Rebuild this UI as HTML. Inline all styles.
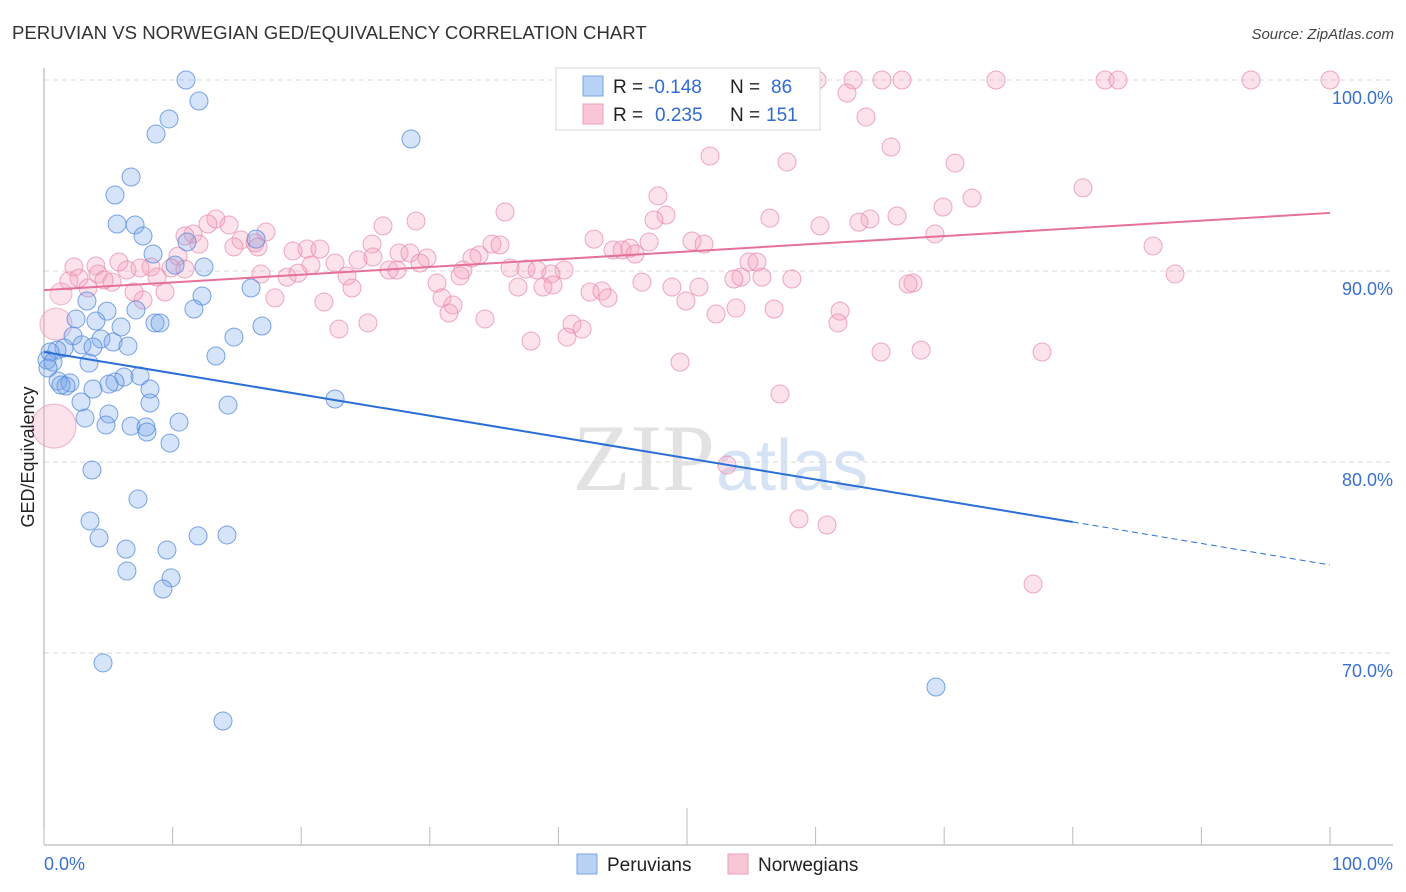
<!DOCTYPE html>
<html><head><meta charset="utf-8">
<style>
body{margin:0;background:#fff;font-family:"Liberation Sans",sans-serif;}
svg{display:block}
</style></head>
<body>
<svg width="1406" height="892" id="chart">
<text x="12" y="39" font-size="18.6" fill="#333">PERUVIAN VS NORWEGIAN GED/EQUIVALENCY CORRELATION CHART</text>
<text x="1394" y="39" font-size="15" fill="#444" font-style="italic" text-anchor="end">Source: ZipAtlas.com</text>
<text x="715" y="490" font-size="95" fill="#e2e2e2" text-anchor="end" font-family="Liberation Serif">ZIP</text>
<text x="716" y="490" font-size="72" fill="#d6e3f5">atlas</text>
<g id="grid"></g>
<g id="axes"></g>
<g id="marks"></g>
<text transform="translate(34,457) rotate(-90)" font-size="18" fill="#222" text-anchor="middle">GED/Equivalency</text>
<g>
<rect x="556" y="68" width="264" height="62" fill="#fff" stroke="#d8d8d8"/>
<rect x="583" y="76" width="20" height="20" fill="#b8d3f5" stroke="#7aa6e3"/>
<rect x="583" y="104" width="20" height="20" fill="#f9c6d6" stroke="#eba1ba"/>
<text x="613" y="93" font-size="19" fill="#222">R = <tspan fill="#2f6bd0" x="648">-0.148</tspan><tspan fill="#222" x="730">N = </tspan><tspan fill="#2f6bd0" x="771">86</tspan></text>
<text x="613" y="121" font-size="19" fill="#222">R = <tspan fill="#2f6bd0" x="655">0.235</tspan><tspan fill="#222" x="730">N = </tspan><tspan fill="#2f6bd0" x="766">151</tspan></text>
</g>
<g>
<rect x="577" y="854" width="20" height="20" fill="#b8d3f5" stroke="#7aa6e3"/>
<text x="607" y="871" font-size="19" fill="#222">Peruvians</text>
<rect x="728" y="854" width="20" height="20" fill="#f9c6d6" stroke="#eba1ba"/>
<text x="758" y="871" font-size="19" fill="#222">Norwegians</text>
</g>
</svg>
<script>
const yTicks=[100,90,80,70];
const yTickLabels=["100.0%","90.0%","80.0%","70.0%"];
const xTicks=[0,10,20,30,40,50,60,70,80,90,100];
const xEndLabels=["0.0%","100.0%"];
const blueX=[11.04,12.05,9.72,8.71,28.54,6.77,5.52,5.68,7.08,7.70,16.49,11.12,8.48,12.44,10.19,16.10,12.29,3.34,11.66,7.15,4.90,2.49,4.04,8.63,9.02,16.95,5.99,14.77,2.26,4.43,5.37,6.53,2.95,3.81,1.56,1.01,0.47,0.23,0.70,3.50,13.37,0.31,6.22,7.47,5.52,5.05,1.09,2.02,1.71,1.32,3.81,8.24,22.63,2.88,8.24,14.31,5.05,3.19,10.50,4.82,6.77,7.93,8.01,9.80,3.73,7.31,3.58,4.28,6.38,9.56,11.98,14.23,6.45,9.88,9.25,4.59,13.92,69.36];
const blueY=[100.0,98.9,97.96,97.17,96.91,94.92,93.98,92.46,92.41,91.83,91.67,91.52,90.89,90.21,90.31,89.11,88.69,88.43,88.01,87.96,87.90,87.49,87.38,87.28,87.28,87.12,87.07,86.54,86.60,86.44,86.28,86.07,86.13,86.02,85.97,85.86,85.76,85.34,85.23,85.18,85.55,84.92,84.45,84.50,84.19,84.08,84.24,84.14,83.98,84.03,83.82,83.82,83.30,83.14,83.09,82.98,82.51,82.30,82.09,81.94,81.88,81.83,81.57,80.99,79.58,78.06,76.91,76.02,75.44,75.39,76.13,76.18,74.29,73.93,73.35,69.48,66.44,68.22];
const pinkX=[60.11,62.91,65.16,66.72,74.03,82.51,83.52,93.86,100.0,62.44,63.92,65.86,51.79,57.78,70.84,47.74,80.79,72.16,69.91,35.85,48.37,56.45,64.23,66.33,63.37,28.93,47.43,60.34,26.36,13.37,12.75,14.39,69.28,11.59,10.96,17.26,15.32,12.05,16.41,25.51,50.39,51.32,42.77,47.05,86.24,20.45,21.46,19.36,14.77,16.64,44.25,44.95,45.57,45.96,33.83,34.84,35.46,33.28,29.78,27.61,28.46,24.42,25.58,22.63,20.76,10.42,5.83,8.32,2.33,4.04,6.45,7.47,9.88,8.79,10.96,4.20,2.72,5.29,4.67,1.94,29.24,32.58,36.24,37.48,38.34,40.44,39.42,26.83,27.45,23.56,16.87,18.90,19.75,54.82,55.44,54.20,53.65,58.16,55.83,87.95,46.50,30.56,32.35,39.58,38.80,48.83,50.93,36.86,23.95,42.46,43.39,43.86,3.42,7.00,7.70,9.41,17.96,21.77,30.95,31.80,49.92,53.81,56.77,61.90,31.49,34.29,52.26,67.57,67.19,61.74,41.06,41.84,40.67,25.19,22.94,37.87,65.09,68.20,77.61,49.46,57.23,53.11,58.71,60.89,76.91];
const pinkY=[100.0,100.0,100.0,100.0,100.0,100.0,100.0,100.0,100.0,99.32,98.06,96.49,96.02,95.71,95.65,93.93,94.35,93.82,93.35,93.09,92.93,92.77,92.72,92.88,92.56,92.62,92.67,92.36,92.36,92.72,92.46,92.41,91.94,91.94,91.83,92.04,91.62,91.41,91.47,91.41,91.57,91.41,91.67,91.52,91.31,91.15,91.15,91.05,91.26,91.26,91.10,91.10,91.20,90.89,90.84,91.41,91.36,90.68,90.68,90.94,90.94,90.58,90.73,90.42,90.31,90.78,90.47,90.21,90.21,90.26,90.05,90.16,90.16,89.68,90.10,89.84,89.63,89.42,89.53,89.48,90.42,90.05,90.16,90.10,90.05,90.05,89.84,90.05,90.05,89.74,89.84,89.68,89.89,90.47,90.47,89.68,89.58,89.58,89.68,89.84,89.42,89.37,89.74,89.27,89.16,89.16,89.16,89.16,89.11,88.90,88.95,88.59,89.11,88.90,88.48,88.90,88.59,88.38,88.59,88.22,88.43,88.06,88.01,87.90,87.80,87.49,87.75,89.37,89.32,87.28,87.22,86.96,86.54,87.28,86.96,86.33,85.76,85.86,85.76,85.23,83.56,79.84,77.02,76.70,73.61];
const pinkBigX=[0.93,0.78,1.32];
const pinkBigY=[87.22,81.88,88.80];
const pinkBigW=[16,22,11];
const blueTrend=[[0,85.76],[80,76.86],[100,74.61]];
const pinkTrend=[[0,89.0],[100,93.04]];

const NS="http://www.w3.org/2000/svg";
const xs=v=>44+v*12.86;
const ys=v=>80+(100-v)*19.1;
function mk(tag,attrs,parent){const e=document.createElementNS(NS,tag);for(const k in attrs)e.setAttribute(k,attrs[k]);parent.appendChild(e);return e;}
const grid=document.getElementById('grid'),axes=document.getElementById('axes'),marks=document.getElementById('marks');
yTicks.forEach((t,i)=>{
  const l=mk('line',{x1:44,x2:1393,y1:ys(t),y2:ys(t),stroke:'#d8d8d8','stroke-dasharray':'5,4'},grid);
  
  
  const tx=mk('text',{x:1393,y:ys(t)+24,'font-size':18,fill:'#3a70d0','text-anchor':'end'},axes);
  tx.textContent=yTickLabels[i];
  
  
});
const ya=mk('line',{x1:44,x2:44,y1:68,y2:845,stroke:'#aaa'},axes);


const xa=mk('line',{x1:44,x2:1393,y1:845,y2:845,stroke:'#aaa'},axes);


xTicks.forEach(t=>{
  const tk=mk('line',{x1:xs(t),x2:xs(t),y1:t===50?808:827,y2:845,stroke:'#bbb'},axes);
  
  
});
const xl0=mk('text',{x:44,y:870,'font-size':18,fill:'#3a70d0'},axes);xl0.textContent=xEndLabels[0];


const xl1=mk('text',{x:1393,y:870,'font-size':18,fill:'#3a70d0','text-anchor':'end'},axes);xl1.textContent=xEndLabels[1];



pinkX.forEach((x,i)=>{
  const c=mk('circle',{cx:xs(x),cy:ys(pinkY[i]),r:9,fill:'rgba(244,160,190,0.3)',stroke:'rgba(232,140,172,0.75)','stroke-width':1},marks);
  
  
});
pinkBigX.forEach((x,i)=>{
  const c=mk('circle',{cx:xs(x),cy:ys(pinkBigY[i]),r:pinkBigW[i],fill:'rgba(244,160,190,0.3)',stroke:'rgba(232,140,172,0.6)','stroke-width':1},marks);
  
  
});
blueX.forEach((x,i)=>{
  const c=mk('circle',{cx:xs(x),cy:ys(blueY[i]),r:9,fill:'rgba(120,165,235,0.3)',stroke:'rgba(80,135,220,0.75)','stroke-width':1},marks);
  
  
});
const bl=mk('line',{x1:xs(blueTrend[0][0]),y1:ys(blueTrend[0][1]),x2:xs(blueTrend[1][0]),y2:ys(blueTrend[1][1]),stroke:'#2a6fd6','stroke-width':2},marks);


const bd=mk('line',{x1:xs(blueTrend[1][0]),y1:ys(blueTrend[1][1]),x2:xs(blueTrend[2][0]),y2:ys(blueTrend[2][1]),stroke:'#2a6fd6','stroke-width':1,'stroke-dasharray':'6,4'},marks);


const pl=mk('line',{x1:xs(pinkTrend[0][0]),y1:ys(pinkTrend[0][1]),x2:xs(pinkTrend[1][0]),y2:ys(pinkTrend[1][1]),stroke:'#e5709a','stroke-width':2},marks);


</script>
</body></html>
